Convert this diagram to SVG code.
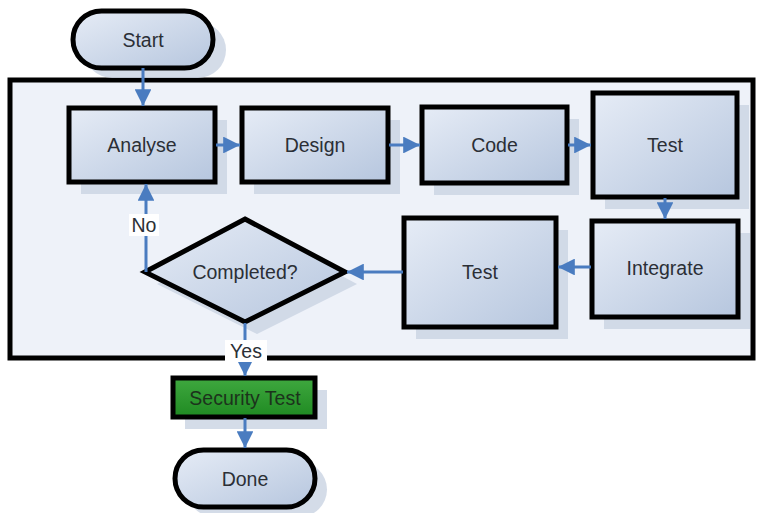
<svg xmlns="http://www.w3.org/2000/svg" width="757" height="513" viewBox="0 0 757 513">
  <defs>
    <linearGradient id="boxFill" x1="0" y1="0" x2="1" y2="1">
      <stop offset="0" stop-color="#e6ecf6"/>
      <stop offset="1" stop-color="#b6c6de"/>
    </linearGradient>
    <linearGradient id="greenFill" x1="0" y1="0" x2="0" y2="1">
      <stop offset="0" stop-color="#3fa83f"/>
      <stop offset="1" stop-color="#1f8a22"/>
    </linearGradient>
    <marker id="arrow" viewBox="0 0 10 10" refX="10" refY="5" markerWidth="5.6" markerHeight="5.6" orient="auto" markerUnits="strokeWidth">
      <path d="M0,0 L10,5 L0,10 z" fill="#4a7cc0"/>
    </marker>
  </defs>
  <style>
    .shape { fill: url(#boxFill); stroke: #000; stroke-width: 5; }
    .shadow { fill: #c9d3e2; opacity: 0.8; }
    .label { font-family: "Liberation Sans", Arial, sans-serif; font-size: 19.5px; fill: #2b2f36; text-anchor: middle; dominant-baseline: central; }
    .conn { fill: none; stroke: #4a7cc0; stroke-width: 3; marker-end: url(#arrow); }
  </style>

  <rect width="757" height="513" fill="#ffffff"/>

  <!-- process frame -->
  <g id="frame">
    <rect x="10" y="80" width="743" height="278" fill="#eef2f9" stroke="#000" stroke-width="5"/>
  </g>

  <g id="start">
    <rect x="84" y="22" width="142" height="56" rx="28" class="shadow"/>
    <rect x="73" y="11" width="140" height="57" rx="28.5" class="shape"/>
    <text x="143" y="39.5" class="label">Start</text>
  </g>

  <g id="analyse">
    <rect x="81" y="120" width="146" height="74" class="shadow"/>
    <rect x="69" y="108" width="146" height="74" class="shape"/>
    <text x="142" y="145" class="label">Analyse</text>
  </g>

  <g id="design">
    <rect x="254" y="120" width="146" height="74" class="shadow"/>
    <rect x="242" y="108" width="146" height="74" class="shape"/>
    <text x="315" y="145" class="label">Design</text>
  </g>

  <g id="code">
    <rect x="434" y="119" width="145" height="76" class="shadow"/>
    <rect x="422" y="107" width="145" height="76" class="shape"/>
    <text x="494.5" y="145" class="label">Code</text>
  </g>

  <g id="test-unit">
    <rect x="605" y="105" width="144" height="104" class="shadow"/>
    <rect x="593" y="93" width="144" height="104" class="shape"/>
    <text x="665" y="145" class="label">Test</text>
  </g>

  <g id="integrate">
    <rect x="604" y="233" width="146" height="96" class="shadow"/>
    <rect x="592" y="221" width="146" height="96" class="shape"/>
    <text x="665" y="268" class="label">Integrate</text>
  </g>

  <g id="test-system">
    <rect x="416" y="230" width="152" height="109" class="shadow"/>
    <rect x="404" y="218" width="152" height="109" class="shape"/>
    <text x="480" y="272" class="label">Test</text>
  </g>

  <g id="completed">
    <polygon points="257,231 357,284 257,334 157,284" class="shadow"/>
    <polygon points="245,219 345,272 245,322 145,272" class="shape"/>
    <text x="245" y="272" class="label">Completed?</text>
  </g>

  <g id="security-test">
    <rect x="185" y="390" width="142" height="39" class="shadow"/>
    <rect x="173" y="378" width="142" height="39" fill="url(#greenFill)" stroke="#000" stroke-width="5"/>
    <text x="245" y="397.5" class="label" style="fill:#1c331c">Security Test</text>
  </g>

  <g id="done">
    <rect x="187" y="462" width="140" height="55" rx="27.5" class="shadow"/>
    <rect x="175" y="450" width="140" height="57" rx="28.5" class="shape"/>
    <text x="245" y="478.5" class="label">Done</text>
  </g>

  <g id="connectors">
    <path d="M143,68 V106" class="conn"/>
    <path d="M216,145 H240" class="conn"/>
    <path d="M389,145 H420" class="conn"/>
    <path d="M568,145 H591" class="conn"/>
    <path d="M665,198 V219" class="conn"/>
    <path d="M591,267 H558" class="conn"/>
    <path d="M403,272 H347" class="conn"/>
    <path d="M146,272 V184" class="conn"/>
    <path d="M245,323 V376" class="conn"/>
    <path d="M245,418 V448" class="conn"/>
    <rect x="129" y="214" width="30" height="22" fill="#ffffff"/>
    <text x="144" y="225" class="label">No</text>
    <rect x="225" y="340" width="42" height="22" fill="#ffffff"/>
    <text x="246" y="351" class="label">Yes</text>
  </g>
</svg>
